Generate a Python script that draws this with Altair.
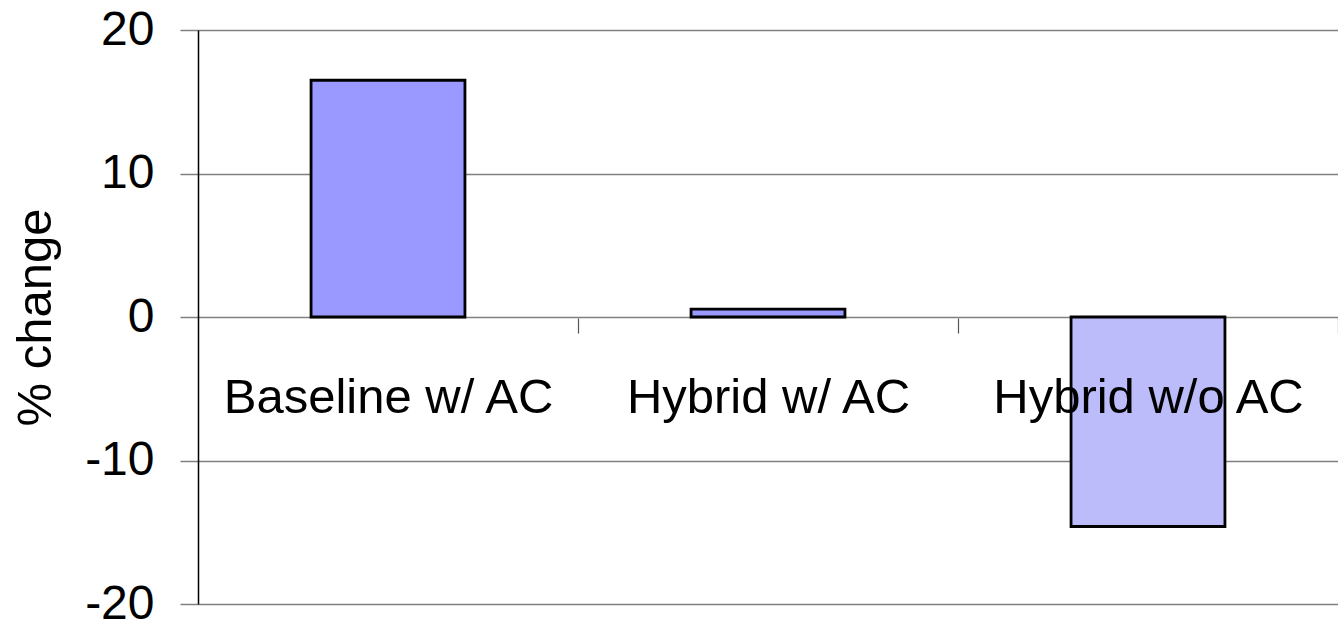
import altair as alt
import pandas as pd

categories = ["Baseline w/ AC", "Hybrid w/ AC", "Hybrid w/o AC"]
values = [16.5, 0.55, -14.6]
fills = ["#9999ff", "#9999ff", "#bcbcfb"]

df = pd.DataFrame({"cat": categories, "val": values, "fill": fills})

FONT = "Liberation Sans"

chart = alt.Chart(df).mark_bar(stroke="black", strokeWidth=2.8).encode(
    x=alt.X("cat:N", sort=categories, title=None,
            scale=alt.Scale(paddingInner=0.595, paddingOuter=0.2975),
            axis=alt.Axis(orient="bottom", offset=-286, domain=False,
                          tickOffset=190, labelOffset=-190, tickSize=15,
                          tickColor="#555555", tickWidth=1.2, labelAngle=0,
                          labelFontSize=49, labelFont=FONT, labelColor="black",
                          labelPadding=40, labelLimit=0, zindex=1, grid=False)),
    y=alt.Y("val:Q", title="% change",
            scale=alt.Scale(domain=[-20, 20], nice=False),
            axis=alt.Axis(values=[-20, -10, 0, 10, 20], grid=True,
                          labelExpr="datum.value + ''",
                          gridColor="#808080", gridWidth=1.5,
                          domainColor="black", domainWidth=1.5,
                          tickColor="#808080", tickSize=18, tickWidth=1.5,
                          labelFontSize=48, labelFont=FONT, labelColor="black",
                          labelPadding=26,
                          titleFontSize=49, titleFont=FONT, titleColor="black",
                          titleFontWeight="normal", titleAngle=270,
                          titleX=-163, titleY=287, titleAlign="center",
                          titleBaseline="middle")),
    fill=alt.Fill("fill:N", scale=None),
).properties(
    width=1140, height=574,
    autosize=alt.AutoSizeParams(type="none"),
    padding={"left": 198, "top": 30, "right": 0, "bottom": 20},
).configure_view(stroke=None).configure(background="white")

chart.save("out.html", embed_options={"renderer": "svg", "actions": False})
